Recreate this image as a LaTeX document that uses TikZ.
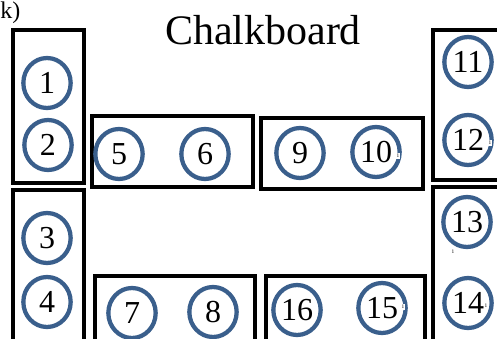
\documentclass[tikz,border=0pt]{standalone}
\usepackage{fontspec}
\usetikzlibrary{shapes.geometric}
\setmainfont{Liberation Serif}
\definecolor{seatblue}{RGB}{58,95,140}
\tikzset{
  seat/.style={ellipse,draw=seatblue,line width=3.2pt,minimum width=35.5pt,minimum height=37.5pt,inner sep=0pt,font=\fontsize{24}{26}\selectfont},
  table/.style={draw=black,line width=3.7pt},
  mark1/.style={fill=white,inner sep=0.6pt,font=\fontsize{4}{4}\selectfont}
}
\begin{document}
\begin{tikzpicture}[x=0.75pt,y=0.75pt,yscale=-1,xscale=1]
\useasboundingbox (0,0) rectangle (497,339);
\clip (0,0) rectangle (497,339);

%Shape: Rectangle [left column]
\draw [table] (13,30) -- (84,30) -- (84,183) -- (13,183) -- cycle ;
\draw [table] (13,190) -- (84,190) -- (84,350) -- (13,350) -- cycle ;
%Shape: Rectangle [right column]
\draw [table] (433,30) -- (510,30) -- (510,180) -- (433,180) -- cycle ;
\draw [table] (433,187) -- (510,187) -- (510,350) -- (433,350) -- cycle ;
%Shape: Rectangle [middle tables]
\draw [table] (92,116) -- (253,116) -- (253,187) -- (92,187) -- cycle ;
\draw [table] (261,118) -- (423,118) -- (423,189) -- (261,189) -- cycle ;
\draw [table] (95,276) -- (255,276) -- (255,350) -- (95,350) -- cycle ;
\draw [table] (266,276) -- (425,276) -- (425,350) -- (266,350) -- cycle ;

% Text Node
\draw (0,18) node [anchor=base west,inner sep=0pt,font=\fontsize{18}{20}\selectfont] (tag) {k)};
% Text Node
\draw (263,44) node [anchor=base,inner sep=0pt,font=\fontsize{31.5}{34}\selectfont] (board) {Chalkboard};

% Seats
\node [seat] (s1) at (47,83) {1};
\node [seat] (s2) at (48,145) {2};
\node [seat] (s3) at (47,238) {3};
\node [seat] (s4) at (47,302) {4};
\node [seat] (s5) at (119,154) {5};
\node [seat] (s6) at (205,154) {6};
\node [seat] (s7) at (132,313) {7};
\node [seat] (s8) at (213,312) {8};
\node [seat] (s9) at (300,153) {9};
\node [seat] (s10) at (376,152) {10};
\node [seat] (s11) at (468,62) {11};
\node [seat] (s12) at (468,140) {12};
\node [seat] (s13) at (467,222) {13};
\node [seat] (s14) at (468,303) {14};
\node [seat] (s15) at (382,308) {15};
\node [seat] (s16) at (297,310) {16};

% small marks
\node [mark1] (m10) at (398,156) {1};
\node [mark1] (m12) at (490,143) {1};
\node [mark1] (m13) at (453,252) {1};
\node [mark1] (m14) at (486,306) {1};
\node [mark1] (m15) at (403,307) {1};

\end{tikzpicture}
\end{document}
